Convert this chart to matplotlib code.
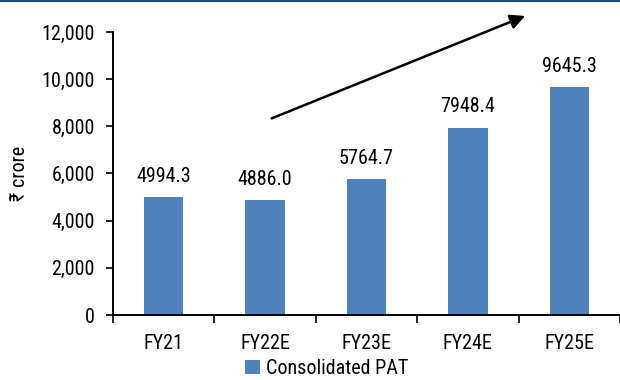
"""Consolidated PAT bar chart with growth arrow."""

import matplotlib

matplotlib.use("Agg")
import matplotlib.pyplot as plt
from matplotlib.lines import Line2D
from matplotlib.ticker import FuncFormatter, MultipleLocator

years = ["FY21", "FY22E", "FY23E", "FY24E", "FY25E"]
pat = [4994.3, 4886.0, 5764.7, 7948.4, 9645.3]
series_name = "Consolidated PAT"
y_label = "₹ crore"

BAR_COLOR = "#4F81BD"
FONT = ["Roboto Condensed", "DejaVu Sans"]
FS = 14.5

plt.rcParams["font.family"] = FONT
plt.rcParams["font.size"] = FS

fig = plt.figure(figsize=(6.2, 3.8), dpi=100)
ax = fig.add_axes([0.182, 0.171, 0.818, 0.745])

x = range(len(years))
bars = ax.bar(x, pat, width=0.39, color=BAR_COLOR, label=series_name)

for rect, val in zip(bars, pat):
    ax.annotate(f"{val:.1f}", (rect.get_x() + rect.get_width() / 2, val),
                xytext=(0, 8), textcoords="offset points",
                ha="center", va="bottom", fontsize=FS)

ax.set_xlim(-0.5, len(years) - 0.5)
ax.set_ylim(0, 12000)
ax.yaxis.set_major_locator(MultipleLocator(2000))
ax.yaxis.set_major_formatter(FuncFormatter(lambda v, _: f"{v:,.0f}"))
ax.set_xticks(list(x), labels=years)
ax.set_xticks([i - 0.5 for i in range(len(years) + 1)], minor=True)
ax.tick_params(axis="x", which="major", length=0, pad=14, labelsize=FS)
ax.tick_params(axis="x", which="minor", length=6, width=1.2, direction="out")
ax.tick_params(axis="y", length=5, width=1.2, pad=8, labelsize=FS)

for side in ("top", "right"):
    ax.spines[side].set_visible(False)
for side in ("left", "bottom"):
    ax.spines[side].set_linewidth(1.4)

ax.set_ylabel(y_label, fontsize=FS, labelpad=9, family=FONT)

# growth arrow, drawn partly above the plot area
ax.annotate("", xy=(3.59, 12720), xytext=(1.04, 8290),
            arrowprops=dict(arrowstyle="-|>", color="black", lw=1.8,
                            mutation_scale=22),
            annotation_clip=False)

fig.legend(handles=bars[:1], labels=[series_name], loc="center",
           bbox_to_anchor=(0.527, 0.03), frameon=False, fontsize=FS,
           handlelength=0.7, handleheight=0.7, handletextpad=0.3)

# thin header rule at the very top of the figure
fig.add_artist(Line2D([0, 1], [0.998, 0.998], color="#1F4E79", lw=1.6,
                      transform=fig.transFigure))

fig.savefig("out.png", dpi=100)
